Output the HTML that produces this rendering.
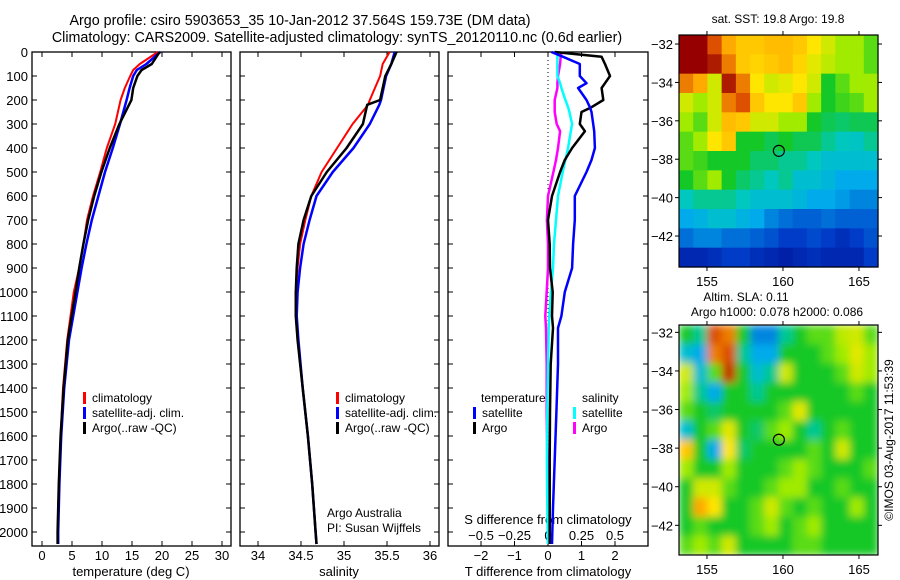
<!DOCTYPE html>
<html><head><meta charset="utf-8"><style>
body{margin:0;background:#fff;}
svg{display:block;font-family:"Liberation Sans",sans-serif;}
</style></head><body>
<svg id="fig" width="900" height="580" xmlns="http://www.w3.org/2000/svg">
<defs>
<clipPath id="clipSla"><rect x="679" y="325" width="199" height="230"/></clipPath>
<filter id="blurSla" x="0" y="0" width="1" height="1"><feGaussianBlur stdDeviation="4" edgeMode="duplicate"/></filter>
</defs>
<rect width="900" height="580" fill="#fff"/>
<text x="300" y="25" font-size="14.3" text-anchor="middle">Argo profile: csiro 5903653_35 10-Jan-2012 37.564S 159.73E (DM data)</text>
<text x="337" y="42" font-size="14.3" text-anchor="middle">Climatology: CARS2009. Satellite-adjusted climatology: synTS_20120110.nc (0.6d earlier)</text>
<text x="778" y="23" font-size="12" text-anchor="middle">sat. SST: 19.8 Argo: 19.8</text>
<text x="746" y="301" font-size="12" text-anchor="middle">Altim. SLA: 0.11</text>
<text x="777" y="316" font-size="12" text-anchor="middle">Argo h1000: 0.078 h2000: 0.086</text>
<text transform="translate(893,440) rotate(-90)" font-size="12" text-anchor="middle">©IMOS 03-Aug-2017 11:53:39</text>
<g id="g"></g>
</svg>
<script>
// ---- profile data ----
const depthT = [0,50,75,100,150,200,300,400,500,600,700,800,900,1000,1200,1400,1600,1800,2000,2050];
const tempClim = [19.3,16.3,15.2,14.7,13.8,13.1,12.2,10.8,9.7,8.5,7.5,6.9,6.2,5.3,4.2,3.5,3.1,2.8,2.6,2.6];
const tempSat  = [19.7,17.4,15.8,15.2,14.6,14.1,13.0,11.8,10.5,9.4,8.3,7.4,6.6,5.9,4.5,3.7,3.2,2.9,2.7,2.7];
const tempArgo = [19.6,18.3,16.6,15.9,15.2,14.9,12.9,11.3,9.9,8.7,7.7,6.9,6.2,5.6,4.3,3.6,3.1,2.8,2.6,2.6];
const depthS = [0,50,100,200,220,300,400,500,600,700,800,900,1000,1100,1200,1400,1600,1800,2000,2050];
const salClim = [35.53,35.45,35.42,35.30,35.28,35.10,34.92,34.74,34.62,34.55,34.49,34.46,34.44,34.44,34.46,34.52,34.58,34.63,34.67,34.68];
const salSat  = [35.59,35.55,35.49,35.43,35.41,35.30,35.11,34.87,34.68,34.60,34.53,34.49,34.46,34.45,34.47,34.52,34.58,34.63,34.67,34.68];
const salArgo = [35.61,35.55,35.48,35.42,35.27,35.22,35.03,34.80,34.62,34.53,34.47,34.45,34.44,34.44,34.46,34.52,34.58,34.63,34.67,34.68];
const depthD = [0,20,50,100,130,150,200,230,250,300,330,400,450,500,600,700,800,900,1000,1100,1150,1300,1500,1700,1900,2050];
const dTSat  = [0.1,0.45,0.95,0.95,1.15,0.9,1.15,1.25,1.3,1.35,1.38,1.4,1.3,1.15,0.8,0.8,0.75,0.72,0.5,0.4,0.3,0.3,0.25,0.2,0.15,0.12];
const dTArgo = [0.2,1.6,1.7,1.85,1.7,1.6,1.65,1.3,1.0,0.95,1.1,0.72,0.5,0.36,0.12,0.0,0.05,0.06,0.14,0.12,0.15,0.08,0.06,0.05,0.05,0.05];
const dSSat  = [0.07,0.07,0.07,0.07,0.09,0.1,0.13,0.15,0.16,0.18,0.17,0.15,0.13,0.11,0.075,0.06,0.045,0.037,0.022,0.01,0.005,0.0,-0.005,-0.008,-0.005,0.0];
const dSArgo = [0.1,0.095,0.09,0.075,0.07,0.07,0.05,0.05,0.05,0.065,0.09,0.075,0.06,0.04,0.0,-0.008,0.0,0.0,-0.01,-0.02,-0.015,-0.01,-0.01,-0.005,0.0,0.0];
const depthTicks = [0,100,200,300,400,500,600,700,800,900,1000,1100,1200,1300,1400,1500,1600,1700,1800,1900,2000];
const tempTicks = [0,5,10,15,20,25,30];
const salTicks = [34,34.5,35,35.5,36];
const salTickLabels = ["34","34.5","35","35.5","36"];
const dTTicks = [-2,-1,0,1,2];
const dSTicks = [-0.5,-0.25,0,0.25,0.5];
const dSTickLabels = ["\u22120.5","\u22120.25","0","0.25","0.5"];
// ---- map data (normalised colour index) ----
const sstGrid = [
[1,1,.85,.75,.7,.7,.72,.72,.7,.65,.6,.55,.55,.5],
[1,1,.95,.8,.7,.68,.7,.72,.68,.62,.58,.55,.55,.5],
[.8,.75,.6,.95,.8,.65,.6,.62,.65,.6,.45,.5,.55,.55],
[.6,.55,.6,.8,.85,.7,.65,.65,.7,.55,.45,.48,.5,.55],
[.55,.5,.6,.72,.7,.6,.6,.55,.55,.45,.43,.42,.43,.43],
[.5,.55,.65,.7,.45,.45,.43,.45,.43,.43,.4,.38,.37,.4],
[.5,.48,.45,.45,.45,.42,.42,.4,.4,.38,.35,.35,.35,.35],
[.45,.5,.55,.45,.42,.4,.38,.4,.35,.35,.33,.3,.3,.3],
[.38,.4,.4,.4,.38,.35,.35,.35,.33,.3,.3,.28,.25,.25],
[.3,.32,.35,.35,.32,.3,.25,.22,.2,.2,.22,.2,.2,.2],
[.22,.25,.25,.22,.22,.2,.18,.15,.15,.17,.15,.12,.15,.18],
[.1,.1,.12,.15,.15,.12,.1,.08,.1,.12,.1,.1,.1,.15]];
const slaGrid = [
[.45,.4,.85,.8,.45,.25,.25,.4,.45,.5,.5,.58,.6,.5],
[.35,.3,.8,.85,.4,.3,.3,.45,.45,.45,.5,.55,.62,.55],
[.6,.35,.5,.9,.45,.35,.4,.6,.45,.45,.45,.5,.6,.55],
[.55,.4,.3,.45,.45,.4,.45,.45,.45,.45,.45,.45,.5,.45],
[.5,.45,.42,.45,.45,.45,.45,.5,.62,.45,.45,.45,.45,.45],
[.35,.45,.5,.62,.45,.42,.5,.55,.45,.4,.45,.5,.45,.45],
[.7,.45,.3,.65,.42,.45,.45,.45,.45,.5,.45,.6,.45,.45],
[.55,.45,.45,.55,.45,.45,.45,.5,.55,.5,.45,.45,.45,.5],
[.45,.6,.6,.5,.45,.45,.5,.55,.55,.45,.45,.5,.45,.45],
[.45,.75,.65,.45,.45,.5,.6,.5,.45,.5,.45,.45,.55,.45],
[.45,.5,.45,.45,.45,.5,.55,.45,.5,.55,.45,.45,.45,.45],
[.5,.55,.5,.6,.45,.45,.45,.45,.5,.5,.45,.45,.45,.45]];
const lonTicks = [155,160,165];
const latTicks = [-32,-34,-36,-38,-40,-42];
const argoLon = 159.73, argoLat = -37.564;

const NS="http://www.w3.org/2000/svg";
const G=document.getElementById('g');
function el(tag,attrs,parent){const e=document.createElementNS(NS,tag);for(const k in attrs)e.setAttribute(k,attrs[k]);(parent||G).appendChild(e);return e;}
function txt(x,y,s,anchor,size,parent){const t=el('text',{x:x,y:y,'font-size':size||12,'text-anchor':anchor||'start'},parent);t.textContent=s;return t;}

const Y0=52, Y1=546;
const yD = d => Y0 + 0.24*d;
const panels=[{x0:32,x1:231},{x0:240,x1:439},{x0:448,x1:648}];
const xT = v => 42 + 6*v;
const xS = v => 258 + 86*(v-34);
const xDT = v => 548 + 33.5*v;
const xDS = v => 548 + 134*v;

panels.forEach((p,i)=>{
  const f=el('rect',{x:p.x0,y:Y0,width:p.x1-p.x0,height:Y1-Y0,fill:'none',stroke:'#000','stroke-width':1.3});
  
  
  depthTicks.forEach(d=>{
    el('line',{x1:p.x0,x2:p.x0+5,y1:yD(d),y2:yD(d),stroke:'#000'});
    el('line',{x1:p.x1-5,x2:p.x1,y1:yD(d),y2:yD(d),stroke:'#000'});
  });
});
depthTicks.forEach(d=>{
  const t=txt(28,yD(d)+5,String(d),'end',13);
  
  
});
function xticks(ticks,labels,fx,ly){
  ticks.forEach((v,i)=>{
    const x=fx(v);
    el('line',{x1:x,x2:x,y1:Y1,y2:Y1-5,stroke:'#000'});
    el('line',{x1:x,x2:x,y1:Y0,y2:Y0+5,stroke:'#000'});
    const t=txt(x,ly,labels[i],'middle',13);
    
    
  });
}
xticks(tempTicks,tempTicks.map(String),xT,560);
xticks(salTicks,salTickLabels,xS,560);
xticks(dTTicks,dTTicks.map(v=>v<0?'\u2212'+(-v):String(v)),xDT,560);
dSTicks.forEach((v,i)=>{
  const x=xDS(v);
  el('line',{x1:x,x2:x,y1:Y1,y2:Y1-4,stroke:'#000'});
  const t=txt(x,540,dSTickLabels[i],'middle',13);
  
  
});
[['temperature (deg C)',131],['salinity',339],['T difference from climatology',548]].forEach(a=>{
  const t=txt(a[1],576,a[0],'middle',13);
  
  
});
{const t=txt(548,524,'S difference from climatology','middle',13);

}
{const l=el('line',{x1:548,x2:548,y1:Y0,y2:Y1,stroke:'#000','stroke-dasharray':'1,3'});

}

function series(depths,vals,fx,color,name,w){
  const pts=depths.map((d,i)=>fx(vals[i]).toFixed(1)+','+yD(d).toFixed(1)).join(' ');
  const p=el('polyline',{points:pts,fill:'none',stroke:color,'stroke-width':w||2,'stroke-linejoin':'round'});
  
  
}
series(depthT,tempClim,xT,'#f00','temp-climatology-line');
series(depthT,tempSat,xT,'#00f','temp-satellite-line',2.5);
series(depthT,tempArgo,xT,'#000','temp-argo-line',2.5);
series(depthS,salClim,xS,'#f00','sal-climatology-line');
series(depthS,salSat,xS,'#00f','sal-satellite-line',2.5);
series(depthS,salArgo,xS,'#000','sal-argo-line',2.5);
series(depthD,dSArgo,xDS,'#f0f','sdiff-argo-line',2.5);
series(depthD,dSSat,xDS,'#0ff','sdiff-satellite-line',2.5);
series(depthD,dTArgo,xDT,'#000','tdiff-argo-line',2.5);
series(depthD,dTSat,xDT,'#00f','tdiff-satellite-line',2.5);

function legend(x,y,items,name){
  items.forEach((it,i)=>{
    const r=el('rect',{x:x,y:y+i*15-10,width:3,height:12,fill:it[1]});
    
    
    const t=txt(x+9,y+i*15,it[0],'start',12);
    
    
  });
}
legend(83,402,[['climatology','#f00'],['satellite-adj. clim.','#00f'],['Argo(..raw -QC)','#000']],'temp-legend');
legend(336,402,[['climatology','#f00'],['satellite-adj. clim.','#00f'],['Argo(..raw -QC)','#000']],'sal-legend');
{const t=txt(481,402,'temperature','start',12);}
{const t=txt(582,402,'salinity','start',12);}
legend(473,417,[['satellite','#00f'],['Argo','#000']],'tdiff-legend');
legend(573,417,[['satellite','#0ff'],['Argo','#f0f']],'sdiff-legend');
{const t=txt(327,517,'Argo Australia','start',12);}
{const t=txt(327,532,'PI: Susan Wijffels','start',12);}

// ---- maps ----
const cmapStops=[[0,0,0,130],[0.15,0,60,200],[0.3,0,170,235],[0.38,0,200,190],[0.45,20,200,40],[0.5,90,220,20],[0.55,160,235,0],[0.65,255,230,0],[0.75,255,170,0],[0.85,220,80,0],[1,150,0,0]];
function cmap(v){
  v=Math.max(0,Math.min(1,v));
  for(let i=1;i<cmapStops.length;i++){
    const a=cmapStops[i-1],b=cmapStops[i];
    if(v<=b[0]){const f=(v-a[0])/(b[0]-a[0]);
      return 'rgb('+[1,2,3].map(k=>Math.round(a[k]+f*(b[k]-a[k]))).join(',')+')';}
  }
  return 'rgb(150,0,0)';
}
function map(grid,X0,X1,T0,T1,latTop,latPerPx,name,smooth){
  const lonMin=153.16, lonPerPx=1/15.2;
  const xL=l=>X0+(l-lonMin)/lonPerPx;
  const yL=la=>T0+(latTop-la)/latPerPx;
  const rows=grid.length, cols=grid[0].length;
  const cw=(X1-X0)/cols, ch=(T1-T0)/rows;
  const outer=el('g',smooth?{'clip-path':'url(#clipSla)'}:{});
  const g=el('g',smooth?{filter:'url(#blurSla)'}:{},outer);
  
  
  grid.forEach((row,r)=>row.forEach((v,c)=>{
    const cell=el('rect',{x:X0+c*cw,y:T0+r*ch,width:cw+0.6,height:ch+0.6,fill:cmap(v)},g);
    
    
  }));
  el('rect',{x:X0,y:T0,width:X1-X0,height:T1-T0,fill:'none',stroke:'#000','stroke-width':1.2});
  lonTicks.forEach(l=>{
    const x=xL(l);
    el('line',{x1:x,x2:x,y1:T1,y2:T1+4,stroke:'#000'});
    el('line',{x1:x,x2:x,y1:T0,y2:T0-4,stroke:'#000'});
    const t=txt(x,T1+19,String(l),'middle',13);
    
    
  });
  latTicks.forEach(la=>{
    const y=yL(la);
    el('line',{x1:X0-4,x2:X0,y1:y,y2:y,stroke:'#000'});
    el('line',{x1:X1,x2:X1+4,y1:y,y2:y,stroke:'#000'});
    const t=txt(X0-6,y+5,'\u2212'+(-la),'end',13);
    
    
  });
  const m=el('circle',{cx:xL(argoLon),cy:yL(argoLat),r:5.5,fill:'none',stroke:'#000','stroke-width':1.2});
  
  
}
map(sstGrid,679,878,35,267,-31.53,1/19.2,'sst-map',false);
map(slaGrid,679,878,325,555,-31.62,1/19.3,'sla-map',true);
</script>
</body></html>
